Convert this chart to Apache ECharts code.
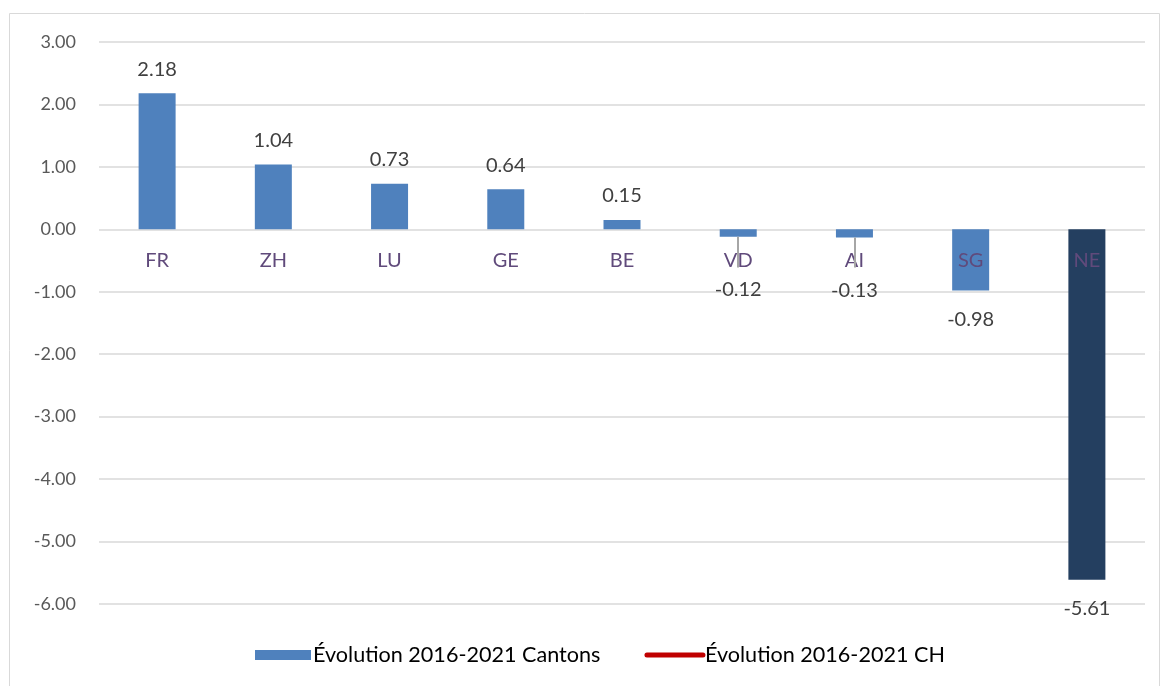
<!DOCTYPE html>
<html>
<head>
<meta charset="utf-8">
<script src="https://cdn.jsdelivr.net/npm/echarts@6/dist/echarts.min.js"></script>
<style>
  html, body { margin: 0; padding: 0; background: #fff; }
  #chart { width: 1162px; height: 686px; }
</style>
</head>
<body>
<div id="chart"></div>
<script>
// Cantons and their 2016-2021 change
const cantons = ['FR', 'ZH', 'LU', 'GE', 'BE', 'VD', 'AI', 'SG', 'NE'];
const evolutionCantons = [2.18, 1.04, 0.73, 0.64, 0.15, -0.12, -0.13, -0.98, -5.61];
// Swiss-wide series (legend entry only)
const evolutionCH = [];
// Cantons whose value label is pushed down, with the guide line end value
const shiftedLabels = ['VD', 'AI'];
const guideEnd = -0.61;

const yMin = -6;
const yMax = 3;

const highlight = 'NE';
const baseColor = '#4f81bd';
const highlightColor = '#243f60';
const font = 'Lato, "Open Sans", sans-serif';

const barData = cantons.map((c, i) => {
  const v = evolutionCantons[i];
  const item = { value: v, itemStyle: { color: c === highlight ? highlightColor : baseColor } };
  item.label = v >= 0 ? { position: 'top', distance: 14 } : { position: 'bottom', distance: 19 };
  if (shiftedLabels.includes(c)) item.label.offset = [0, 24];
  return item;
});

const chart = echarts.init(document.getElementById('chart'), null, { renderer: 'canvas' });
chart.setOption({
  animation: false,
  textStyle: { fontFamily: font },
  graphic: [{
    type: 'rect',
    shape: { x: 9.5, y: 13.5, width: 1150, height: 680 },
    style: { fill: 'none', stroke: '#d9d9d9', lineWidth: 1 },
    silent: true
  }],
  grid: { left: 99, right: 17, top: 42, bottom: 82, containLabel: false },
  legend: {
    bottom: 15,
    left: 250,
    itemWidth: 56,
    itemHeight: 10,
    itemGap: 44,
    textStyle: { fontFamily: font, fontSize: 21.6, color: '#000', padding: [0, 0, 0, -3] },
    data: [
      { name: 'Évolution 2016-2021 Cantons', icon: 'rect', itemStyle: { color: baseColor } },
      { name: 'Évolution 2016-2021 CH', itemStyle: { opacity: 0 }, lineStyle: { color: '#c00000', width: 5, cap: 'round' } }
    ]
  },
  xAxis: {
    type: 'category',
    data: cantons,
    z: 3,
    axisLine: { show: false, onZero: false },
    axisTick: { show: false },
    axisLabel: { color: '#604a7b', fontSize: 20, margin: 21, fontFamily: font }
  },
  yAxis: {
    type: 'value',
    min: yMin,
    max: yMax,
    interval: 1,
    axisLine: { show: false },
    axisTick: { show: false },
    axisLabel: {
      color: '#595959', fontSize: 18, margin: 23, fontFamily: font,
      formatter: v => v.toFixed(2)
    },
    splitLine: { lineStyle: { color: '#d9d9d9', width: 1.5 } }
  },
  series: [
    {
      name: 'Évolution 2016-2021 Cantons',
      type: 'bar',
      barWidth: 37,
      data: barData,
      label: {
        show: true,
        fontSize: 20,
        color: '#404040',
        fontFamily: font,
        formatter: p => p.value.toFixed(2)
      },
      markLine: {
        silent: true,
        z: 6,
        symbol: 'none',
        label: { show: false },
        lineStyle: { color: '#a6a6a6', width: 2, type: 'solid' },
        data: shiftedLabels.map(c => [
          { coord: [c, evolutionCantons[cantons.indexOf(c)]] },
          { coord: [c, guideEnd] }
        ])
      }
    },
    {
      name: 'Évolution 2016-2021 CH',
      type: 'line',
      symbol: 'none',
      data: evolutionCH,
      itemStyle: { color: '#c00000' },
      lineStyle: { color: '#c00000', width: 5 }
    }
  ]
});

// Move the category labels up to the zero line of the value axis
const zeroY = chart.convertToPixel({ yAxisIndex: 0 }, 0);
const bottomY = chart.convertToPixel({ yAxisIndex: 0 }, yMin);
chart.setOption({ xAxis: { offset: -(bottomY - zeroY) } });
</script>
</body>
</html>
